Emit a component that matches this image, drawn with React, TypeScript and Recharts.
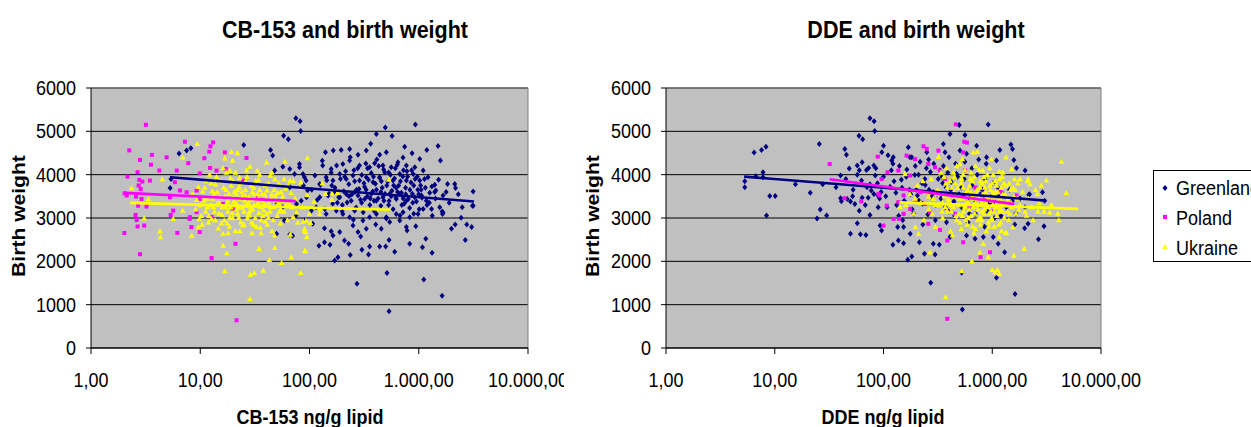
import React from "react";
import {
  CartesianGrid,
  ReferenceLine,
  Scatter,
  ScatterChart,
  XAxis,
  YAxis,
} from "recharts";

type Pt = [number, number];

const xTicks = [1, 10, 100, 1000, 10000];
const xTickLabels = ["1,00", "10,00", "100,00", "1.000,00", "10.000,00"];
const yTicks = [0, 1000, 2000, 3000, 4000, 5000, 6000];
const seriesNames = ["Greenland", "Poland", "Ukraine"];

// CB-153 panel
const cbGreenland: Pt[] = [
  [6.4, 4490], [7.5, 4555], [8.2, 4610], [5.3, 3690], [5.4, 3900], [25, 4685], [44, 4570], [46, 4440],
  [58, 4900], [64, 4815], [75, 5300], [82, 5230], [83, 5010], [48, 4095], [57, 4185], [66, 4130],
  [73, 4015], [81, 4245], [90, 3940], [88, 3750], [66, 3710], [50, 3365], [57, 3250], [76, 3325],
  [94, 3480], [75, 3055], [59, 2940], [50, 2635], [66, 2620], [70, 2590],
  [494, 5090], [931, 5160], [409, 4940], [570, 4890], [363, 4715], [1502, 4660], [1580, 4325], [1185, 4570],
  [718, 4395], [743, 4645], [869, 4495], [165, 4555], [140, 4515], [195, 4570], [233, 4595], [278, 4460],
  [331, 4555], [439, 4460], [505, 4515], [1021, 4360], [1402, 3765], [2137, 3785], [2172, 3695], [3147, 3610],
  [3100, 3280], [1835, 3785], [1670, 3520], [1318, 3725], [1432, 3635], [1670, 3120], [1994, 2750], [2155, 2850],
  [2443, 3005], [3050, 2790], [2666, 2495], [1324, 2200], [1112, 1580], [1637, 1205], [512, 1730], [272, 1480],
  [535, 850], [170, 2020], [182, 2095], [236, 2145], [347, 2160], [439, 2345], [498, 2345], [535, 2495],
  [602, 2220], [826, 2405], [1081, 2325], [1160, 2520], [122, 2360], [137, 2440], [154, 2380], [209, 2480],
  [228, 2405], [302, 2265], [355, 2345], [294, 2575], [137, 2765], [158, 2695], [164, 2595], [189, 2675],
  [250, 2825], [278, 2675], [331, 2750], [404, 2850], [454, 2750], [542, 2905], [670, 2940], [770, 2790],
  [940, 2810], [782, 2710], [115, 3250], [107, 2865], [142, 3095], [176, 3170], [202, 3095], [233, 3020],
  [259, 3170], [308, 2940], [355, 3020], [409, 3095], [505, 3020], [623, 3095], [718, 3135], [826, 3020],
  [985, 3095], [1098, 3210], [1310, 3210], [1556, 3250], [1650, 3095], [124, 3480], [148, 3520], [170, 3595],
  [189, 3480], [217, 3555], [241, 3400], [278, 3520], [320, 3440], [368, 3555], [409, 3400], [470, 3480],
  [542, 3555], [623, 3440], [670, 3555], [770, 3400], [920, 3480], [1060, 3520], [1175, 3400], [124, 3785],
  [142, 3940], [164, 3865], [189, 4015], [217, 3900], [250, 3980], [287, 3865], [331, 3940], [382, 3825],
  [439, 3940], [488, 4055], [581, 3865], [670, 4015], [770, 3865], [890, 4015], [1021, 3865], [1215, 3940],
  [132, 4210], [158, 4130], [202, 4245], [233, 4325], [287, 4210], [355, 4170], [395, 4265], [470, 4210],
  [560, 4170], [645, 4285], [770, 4210], [920, 4170], [1098, 4095], [81, 4170], [87, 4015], [93, 3865],
  [84, 3400], [96, 3635], [104, 3170], [90, 2940],
  [105, 3650], [112, 3980], [118, 3420], [126, 3760], [131, 4320], [138, 3210], [144, 3870], [151, 3560],
  [158, 4050], [163, 3330], [171, 3700], [177, 4210], [185, 3480], [192, 3900], [199, 3150], [206, 3620],
  [214, 4080], [221, 3360], [229, 3780], [236, 4400], [244, 3540], [252, 2960], [259, 3850], [267, 3240],
  [276, 4150], [284, 3670], [293, 3420], [301, 3990], [310, 3130], [319, 3720], [328, 4260], [338, 3500],
  [347, 3880], [357, 3300], [368, 4040], [379, 3610], [390, 3170], [401, 3790], [413, 4350], [425, 3450],
  [437, 3930], [450, 3280], [463, 3700], [477, 4120], [491, 3560], [505, 2990], [520, 3840], [535, 3390],
  [551, 4000], [567, 3630], [583, 3200], [600, 3910], [618, 3470], [636, 4230], [655, 3750], [674, 3060],
  [694, 3580], [714, 3960], [735, 3330], [757, 3700], [779, 4080], [802, 3440], [825, 3230], [849, 3820],
  [874, 3560], [900, 3100], [926, 3900], [953, 3380], [981, 3650], [1010, 3200], [1040, 3750], [1070, 3470],
  [1130, 3900], [1190, 3300], [1260, 3580], [1330, 3050], [1420, 3450], [1520, 3880], [1640, 3150], [1780, 3600],
  [1900, 3350], [2300, 3550], [2500, 3250], [2750, 2850], [3150, 3280],
  [160, 3750], [180, 3350], [210, 3950], [230, 3500], [255, 4100], [270, 3650], [300, 3350], [315, 3800],
  [340, 4150], [360, 3450], [385, 3950], [410, 3650], [430, 4200], [455, 3850], [480, 3400], [510, 3750],
  [530, 4050], [560, 3500], [590, 3750], [610, 4150], [640, 3600], [680, 3850], [700, 3300], [725, 4100],
  [760, 3550], [790, 3950], [830, 3650], [860, 4100], [900, 3750], [970, 3950], [1050, 3650], [1150, 3700],
  [1250, 3350], [1400, 3600], [200, 3300], [260, 3600], [330, 3650], [390, 3400], [450, 3600], [530, 3300],
  [620, 3700], [720, 3450], [880, 3350], [1000, 3550],
];

const cbPoland: Pt[] = [
  [3.18, 5150], [2.24, 4560], [2.81, 4340], [3.61, 4455], [3.54, 4230], [4.22, 4095], [4.92, 4400], [2.16, 3955],
  [2.67, 4055], [2.77, 3880], [2.95, 3840], [3.46, 3865], [2.73, 3750], [2.85, 3670], [2.03, 3570], [2.12, 3520],
  [2.58, 3495], [2.9, 3440], [2.7, 3285], [3.22, 3265], [2.56, 3070], [2.62, 2955], [2.67, 2805], [3.07, 2825],
  [2.02, 2655], [2.81, 2165], [7.24, 4760], [7.77, 4265], [5.86, 3825], [6.52, 3635], [7.5, 3595], [5.28, 3480],
  [5.65, 3170], [5.36, 3070], [6.17, 2655], [8.04, 3020], [8.3, 2790], [9.26, 3635], [9.93, 4030], [10.9, 4380],
  [12.1, 4530], [12.4, 4655], [13.1, 4745], [16.8, 4515], [12.3, 4155], [14.1, 4095], [17.1, 4130], [26.5, 4385],
  [9.9, 3440], [12.7, 3020], [9.9, 2675], [21, 2405], [12.7, 2075], [21.5, 640], [16.2, 3325], [20, 3210],
  [24.7, 3865], [32.7, 3480], [37.7, 3400], [46.5, 3250], [8, 2980], [9.26, 3135], [6.1, 4095],
];

const cbUkraine: Pt[] = [
  [9.4, 4710], [6.9, 4400], [4.49, 3895], [2.35, 3690], [3.34, 3440], [3.07, 2995], [4.28, 2695], [4.33, 2560],
  [5.67, 2980], [6.9, 3170], [19.3, 4530], [21.9, 4500], [16.8, 4380], [19.7, 4325], [18.7, 4095], [28.5, 4185],
  [33.2, 4095], [40.5, 4285], [59.5, 4300], [48.2, 3900], [66.3, 3865], [16.8, 1775], [28.5, 1135], [28.8, 1695],
  [31.2, 1735], [37.7, 1790], [42.8, 2035], [55.5, 1965], [68, 2095], [83, 1735], [17.5, 2190], [16.2, 2365],
  [34.6, 2290], [48.2, 2310], [90.6, 2250], [92, 2675], [87.7, 2920], [8.35, 2595], [9.6, 2790], [9.8, 2980],
  [531, 3885], [131, 3800], [161, 3570], [124, 3095], [95.8, 4385], [83.2, 3825], [93, 2940], [102, 2890],
  [90, 2710], [94.5, 2560], [92, 2235],
  [8.5, 3550], [9.1, 3200], [9.6, 3720], [10.2, 3050], [10.8, 3400], [11.3, 3850], [11.9, 2900], [12.4, 3300],
  [12.9, 3620], [13.5, 3150], [14.1, 3950], [14.6, 2760], [15.2, 3480], [15.8, 3080], [16.4, 3700], [17.0, 3260],
  [17.6, 2880], [18.3, 3560], [18.9, 3920], [19.6, 3120], [20.3, 3380], [21.0, 2700], [21.8, 3650], [22.5, 3010],
  [23.3, 3800], [24.1, 3240], [25.0, 2850], [25.9, 3520], [26.8, 3950], [27.7, 3100], [28.7, 3420], [29.7, 2650],
  [30.8, 3700], [31.9, 3000], [33.0, 3300], [34.2, 3880], [35.4, 2780], [36.7, 3550], [38.0, 3180], [39.4, 2920],
  [40.8, 3640], [42.3, 3360], [43.8, 3980], [45.4, 2700], [47.0, 3250], [48.7, 3520], [50.5, 3050], [52.3, 3800],
  [54.2, 2880], [56.2, 3400], [58.3, 3150], [60.5, 3680], [62.8, 2950], [65, 3330], [68, 3580], [71, 3020],
  [74, 3450], [78, 2900], [82, 3700], [86, 3250], [90, 2750], [95, 3530], [100, 3100], [110, 3380],
  [125, 3200], [140, 3560], [160, 3420], [180, 3580],
  [9.3, 3420], [10.5, 3610], [11.6, 3250], [12.7, 2980], [13.8, 3780], [15.0, 3340], [16.1, 2640], [17.3, 4050],
  [18.6, 3010], [19.9, 3470], [21.4, 3200], [22.9, 3930], [24.5, 2830], [26.2, 3290], [28.0, 3060], [30.0, 3600],
  [32.1, 3860], [34.4, 3120], [36.8, 3400], [39.4, 3760], [42.0, 3010], [44.9, 3470], [48.0, 2600], [51.3, 3580],
  [54.8, 3200], [58.5, 3900], [62.5, 3300], [66.7, 2620], [71.2, 3850], [76.0, 3130],
  [14.5, 3350], [16.8, 3500], [20.5, 3300], [24.0, 3600], [27.5, 3350], [31.5, 3450], [35.5, 3250], [40.0, 3450],
  [19.0, 3250], [23.0, 3450], [29.0, 3250], [33.5, 3550], [37.5, 3050], [44.0, 3250], [52.0, 3350], [13.0, 3450],
  [17.8, 3150], [21.5, 3550], [26.0, 3650], [30.5, 2850],
  [10.0, 3300], [10.4, 2850], [11.0, 3700], [11.5, 3450], [12.0, 3050], [12.6, 3800], [13.2, 3250], [13.7, 2950],
  [14.3, 3600], [14.9, 3100], [15.5, 3850], [16.0, 3250], [16.6, 2950], [17.2, 3650], [17.9, 3400], [18.5, 2800],
  [19.2, 3750], [19.8, 3000], [20.6, 3600], [21.2, 3350], [22.0, 3100], [22.7, 3700], [23.5, 2900], [24.3, 3500],
  [25.2, 3150], [26.0, 3850], [27.0, 3000], [28.0, 3500], [29.2, 3750], [30.2, 3200], [31.2, 3550], [32.5, 2800],
  [33.8, 3350], [35.0, 3650], [36.2, 2950], [37.8, 3300], [39.0, 3550], [40.5, 3100], [42.0, 3800], [43.5, 3150],
  [45.0, 3550], [46.5, 2950], [49.5, 3400], [53.0, 3150], [57.0, 3500], [61.0, 3300], [64.0, 3750], [69.0, 3250],
  [11.2, 3150], [13.4, 3550], [15.6, 2880], [17.5, 3350], [20.0, 3850], [22.2, 3250], [25.5, 3400], [28.3, 3150],
  [31.0, 3300], [34.0, 3450], [38.5, 3350], [41.0, 2850], [47.5, 3650], [55.0, 3600], [12.2, 4000], [16.2, 4150],
  [21.0, 4050], [26.5, 4100], [35.0, 4000], [45.0, 4050], [23.0, 2700], [18.0, 2650], [36.0, 2650], [29.5, 2900],
];

const cbTrends: Pt[][] = [
  [[5.3, 3940], [3200, 3380]],
  [[2.02, 3580], [75, 3390]],
  [[2.27, 3350], [550, 3190]],
];

// DDE panel
const ddeGreenland: Pt[] = [
  [5.3, 3850], [5.3, 3710], [6.46, 4510], [7.56, 4570], [8.3, 4645], [7.8, 4055], [6.7, 3965], [7.8, 3940],
  [9, 3510], [10.1, 3510], [8.4, 3055], [15.5, 3780], [21.2, 3580], [25.7, 4710], [26.2, 3195], [24.5, 2990],
  [30, 3055], [27.6, 3780], [36.6, 3710], [40.3, 3980], [44.1, 4595], [45.6, 4460], [40.3, 3455], [41, 3385],
  [46.4, 3440], [48.4, 4145], [49.7, 3380], [54.5, 3325], [52.6, 3650], [57.4, 4000], [59.9, 3170], [57.4, 2880],
  [49.7, 2635], [61.3, 2625], [68.9, 2605], [59.5, 4900], [64.3, 4815], [75, 5300], [82, 5230], [83, 5010],
  [63.6, 4285], [57.4, 4210], [69.8, 4110], [73, 4155], [81.5, 4210], [84, 3980], [62.8, 3865], [70.6, 3710],
  [77.1, 3635], [81.5, 3555], [88.7, 3520], [72.3, 3465], [63.6, 3465], [75, 3070], [89.4, 3250],
  [497, 5145], [918, 5160], [409, 4940], [561, 4915], [100, 4670], [96.5, 4515], [123, 4400], [119, 4325],
  [169, 4630], [182, 4400], [250, 4515], [355, 4710], [368, 4515], [505, 4555], [580, 4480], [718, 4670],
  [887, 4400], [1093, 4325], [1175, 4570], [1484, 4695], [1536, 4595], [1580, 4340], [1670, 4155], [2168, 3535],
  [2005, 4095], [2897, 3595], [3034, 3400], [2990, 2810], [2660, 2510], [1985, 2765], [2135, 2865], [1610, 2850],
  [1300, 2210], [1093, 1620], [1620, 1245], [531, 890], [523, 1735], [272, 1505], [298, 2160], [238, 2175],
  [182, 2110], [167, 2035], [153, 2420], [137, 2480], [122, 2380], [153, 2790], [135, 2790], [93, 2825],
  [96, 2710], [176, 2635], [214, 2440], [287, 2405], [326, 2380], [409, 2560], [580, 2595], [695, 2520],
  [828, 2560], [1021, 2560], [1134, 2405],
  [45, 3900], [52, 3500], [60, 4100], [68, 3300], [75, 3780], [85, 4150], [92, 3450], [100, 3950],
  [108, 3250], [115, 3720], [122, 4250], [130, 3580], [138, 3050], [146, 3880], [155, 3400], [164, 4120],
  [173, 3650], [183, 3200], [194, 3990], [205, 3520], [217, 4300], [229, 3330], [242, 3760], [256, 3080],
  [270, 4060], [286, 3600], [302, 3300], [319, 3900], [337, 3450], [356, 4200], [376, 3700], [397, 3150],
  [420, 3830], [444, 3380], [469, 4020], [495, 3550], [523, 3250], [553, 3900], [584, 3600], [617, 3100],
  [652, 3750], [689, 3420], [728, 4000], [769, 3300], [812, 3650], [858, 3900], [907, 3150], [958, 3500],
  [1012, 3800], [1070, 3350], [1130, 3700], [1200, 3050], [1270, 3550], [1350, 3250], [1440, 3650], [1530, 3400],
  [1650, 3100], [1800, 3450], [2000, 3250], [2200, 3550],
  [110, 4450], [140, 4200], [175, 4400], [210, 4000], [260, 4350], [330, 4100], [400, 4400], [460, 4250],
  [560, 4300], [650, 4150], [750, 4350], [880, 4250], [95, 3600], [125, 3850], [160, 3350], [200, 3650],
  [240, 3900], [280, 3500], [350, 3800], [430, 3550], [520, 3700], [620, 3450], [780, 3550], [950, 3350],
  [1150, 3500], [150, 2950], [190, 3100], [230, 2850], [300, 2950], [380, 2900], [450, 3050], [600, 2900],
  [700, 3100], [850, 2800], [1050, 3000],
  [88, 3800], [105, 3500], [118, 4100], [132, 3300], [148, 3700], [162, 3950], [178, 3550], [196, 4200],
  [212, 3400], [226, 3800], [248, 4150], [262, 3650], [290, 4250], [310, 3550], [345, 3950], [370, 3250],
  [390, 4050], [415, 3650], [480, 3950], [540, 3500],
];

const ddePoland: Pt[] = [
  [32, 4245], [43.9, 3455], [62.5, 3385], [88.6, 4415], [91.7, 3520], [463, 5160], [553, 4760], [585, 4740],
  [233, 4655], [250, 4595], [320, 4555], [195, 4360], [163, 4440], [109, 4055], [137, 4095], [176, 3980],
  [258, 4245], [298, 4170], [331, 4095], [368, 3900], [541, 4515], [561, 4095], [96, 3900], [90, 3555],
  [107, 3285], [137, 3365], [153, 3095], [176, 3210], [195, 3400], [241, 3325], [268, 3135], [409, 3135],
  [454, 3095], [124, 2980], [139, 2980], [100, 2825], [258, 2865], [331, 2725], [386, 2480], [541, 2440],
  [952, 2210], [781, 2095], [386, 675], [217, 3595], [153, 3520], [1670, 3520], [700, 3700], [850, 3450],
  [1200, 3600], [620, 3250], [1000, 3150],
];

const ddeUkraine: Pt[] = [
  [4325, 4300], [4800, 3580], [3144, 3870], [4090, 2950], [3370, 3125], [2630, 3150], [2375, 2950], [1968, 2290],
  [1580, 2135], [1117, 1805], [998, 1805], [1058, 1750], [1160, 1715], [918, 2095], [770, 2210], [649, 2005],
  [523, 1775], [373, 1175], [268, 2210], [1507, 4130], [2135, 3900], [1800, 3900], [2220, 3785], [2827, 3750],
  [2068, 3055], [1550, 2790], [1335, 2675], [1160, 2560], [827, 2405], [210, 2635], [196, 2790], [142, 3250],
  [158, 4015], [320, 4415], [531, 4360], [670, 4515], [729, 4530], [985, 4360], [1335, 4400], [1160, 4080],
  [758, 4110], [505, 4245],
  [160, 3300], [175, 3550], [190, 3100], [205, 3750], [220, 3350], [235, 2950], [250, 3600], [262, 3200],
  [275, 3900], [288, 3450], [300, 2800], [312, 3650], [325, 3300], [338, 4050], [350, 3000], [362, 3500],
  [375, 3800], [388, 3150], [400, 3400], [412, 2700], [425, 3700], [438, 3250], [450, 3950], [463, 3050],
  [476, 3550], [490, 3300], [503, 2900], [517, 3800], [530, 3450], [545, 3150], [560, 4100], [575, 3600],
  [590, 2850], [605, 3350], [620, 3750], [636, 3050], [652, 3500], [668, 3250], [685, 3950], [702, 2750],
  [720, 3650], [738, 3200], [756, 3450], [775, 3850], [795, 2950], [815, 3550], [835, 3100], [856, 3700],
  [878, 3350], [900, 4000], [922, 2900], [945, 3500], [970, 3150], [995, 3800], [1020, 3300], [1045, 2800],
  [1072, 3600], [1100, 3050], [1130, 3400], [1160, 3900], [1190, 3200], [1220, 2700], [1250, 3550], [1290, 3000],
  [1330, 3750], [1370, 3350], [1420, 2950], [1470, 3650], [1520, 3250], [1580, 3500], [1650, 3100], [1720, 3800],
  [1800, 3300], [1900, 3600], [2000, 3150], [2150, 3450], [2300, 3250], [2500, 3650], [2700, 3350], [3000, 3150],
  [330, 3600], [370, 3250], [410, 3850], [455, 3500], [495, 3100], [540, 3700], [580, 3350], [630, 3900],
  [680, 3550], [730, 2950], [790, 3350], [840, 3950], [900, 3250], [960, 3650], [1030, 3500], [1100, 3750],
  [1180, 3450], [1280, 3800], [1400, 3450], [1550, 3700], [1700, 3450], [350, 3350], [420, 3150], [480, 3700],
  [560, 3250], [640, 3600], [710, 3450], [800, 3150], [870, 3600], [990, 3000], [1080, 3250], [1250, 3150],
  [1450, 3100], [600, 3000], [760, 3000], [520, 2750], [680, 2650], [880, 2700], [1150, 2850], [1350, 2650],
  [430, 2600], [300, 3300], [260, 3500], [230, 3850], [195, 3450], [280, 3100], [380, 4150], [470, 4200],
  [700, 4200], [950, 4150], [1250, 4050], [1600, 3900], [2100, 3850], [2600, 3550], [3500, 3300], [4000, 3100],
  [310, 3550], [345, 3150], [385, 3700], [415, 3300], [445, 3600], [470, 2950], [500, 3450], [525, 3900],
  [550, 3300], [570, 2950], [595, 3650], [615, 3200], [645, 3450], [660, 3850], [690, 3100], [715, 3550],
  [745, 3300], [770, 3700], [790, 3000], [820, 3400], [850, 3200], [870, 3850], [895, 3500], [930, 3100],
  [955, 3750], [985, 3400], [1010, 3600], [1040, 3150], [1065, 3850], [1095, 3350], [1125, 3600], [1170, 3150],
  [1210, 3700], [1260, 3350], [1310, 3550], [1380, 3150], [1430, 3800], [1500, 3350], [1620, 3650], [1750, 3200],
  [395, 3450], [460, 3800], [530, 3050], [610, 3550], [700, 3350], [810, 3800], [920, 3450], [1000, 2950],
  [1120, 3250], [1230, 3950], [360, 3950], [440, 4050], [540, 4000], [640, 4050], [820, 4100], [1020, 4000],
  [660, 2800], [780, 2850], [930, 2800], [1200, 2900],
];

const ddeTrends: Pt[][] = [
  [[5.23, 3955], [3125, 3400]],
  [[32, 3895], [1600, 3320]],
  [[140, 3360], [6150, 3210]],
];

const FONT = '"Liberation Sans", Arial, Helvetica, sans-serif';
const NAVY = "#000080";
const MAGENTA = "#FF00FF";
const YELLOW = "#FFFF00";
const seriesColors = [NAVY, MAGENTA, YELLOW];

const toRows = (pts: Pt[]) => pts.map(([x, y]) => ({ x, y }));

const Diamond = (p: any) => (
  <polygon
    points={`${p.cx},${p.cy - 3} ${p.cx + 2.5},${p.cy} ${p.cx},${p.cy + 3} ${p.cx - 2.5},${p.cy}`}
    fill={NAVY}
  />
);
const Square = (p: any) => (
  <rect x={p.cx - 2} y={p.cy - 2} width={4} height={4} fill={MAGENTA} />
);
const Triangle = (p: any) => (
  <polygon
    points={`${p.cx},${p.cy - 2.9} ${p.cx + 2.8},${p.cy + 2.2} ${p.cx - 2.8},${p.cy + 2.2}`}
    fill={YELLOW}
  />
);
const markers = [Diamond, Square, Triangle];

const XTick = (props: any) => {
  const { x, y, payload } = props;
  const i = xTicks.indexOf(payload.value);
  return (
    <g transform={`translate(${x},${y}) scale(1,1.1)`}>
      <text textAnchor="middle" dy="0.71em" fontSize={18} fontFamily={FONT} fill="#000">
        {i >= 0 ? xTickLabels[i] : payload.value}
      </text>
    </g>
  );
};

const YTick = (props: any) => {
  const { x, y, payload } = props;
  return (
    <g transform={`translate(${x},${y}) scale(1,1.1)`}>
      <text textAnchor="end" dy="0.36em" fontSize={18} fontFamily={FONT} fill="#000">
        {payload.value}
      </text>
    </g>
  );
};

function Panel({
  left,
  width,
  marginLeft,
  marginRight,
  series,
  trends,
}: {
  left: number;
  width: number;
  marginLeft: number;
  marginRight: number;
  series: Pt[][];
  trends: Pt[][];
}) {
  return (
    <div style={{ position: "absolute", left, top: 0 }}>
      <ScatterChart
        width={width}
        height={427}
        margin={{ top: 88, right: marginRight, bottom: 49, left: marginLeft }}
      >
        <CartesianGrid vertical={false} stroke="#000" fill="#C0C0C0" fillOpacity={1} />
        <XAxis
          type="number"
          dataKey="x"
          scale="log"
          domain={[1, 10000]}
          ticks={xTicks}
          interval={0}
          allowDataOverflow
          height={30}
          tickSize={6}
          tickMargin={19}
          tick={(p: any) => <XTick {...p} />}
          axisLine={{ stroke: "#000" }}
          tickLine={{ stroke: "#000" }}
        />
        <YAxis
          type="number"
          dataKey="y"
          domain={[0, 6000]}
          ticks={yTicks}
          interval={0}
          width={60}
          tickSize={5}
          tickMargin={10}
          tick={(p: any) => <YTick {...p} />}
          axisLine={{ stroke: "#000" }}
          tickLine={{ stroke: "#000" }}
        />
        <ReferenceLine y={6000} stroke="#808080" />
        <ReferenceLine x={10000} stroke="#808080" />
        {series.map((pts, i) => (
          <Scatter
            key={seriesNames[i]}
            name={seriesNames[i]}
            data={toRows(pts)}
            shape={markers[i]}
            isAnimationActive={false}
          />
        ))}
        {trends.map((pts, i) => (
          <Scatter
            key={"trend-" + seriesNames[i]}
            data={toRows(pts)}
            line={{ stroke: seriesColors[i], strokeWidth: 2.6 }}
            shape={() => <g />}
            isAnimationActive={false}
          />
        ))}
      </ScatterChart>
    </div>
  );
}

export default function App() {
  return (
    <div
      style={{
        position: "absolute",
        left: 0,
        top: 0,
        width: 1251,
        height: 427,
        overflow: "hidden",
        background: "#fff",
        fontFamily: FONT,
      }}
    >
      <Panel
        left={0}
        width={564}
        marginLeft={31}
        marginRight={36}
        series={[cbGreenland, cbPoland, cbUkraine]}
        trends={cbTrends}
      />
      <Panel
        left={564}
        width={687}
        marginLeft={42}
        marginRight={150}
        series={[ddeGreenland, ddePoland, ddeUkraine]}
        trends={ddeTrends}
      />
      <svg
        width={1251}
        height={427}
        style={{ position: "absolute", left: 0, top: 0, pointerEvents: "none" }}
        fontFamily={FONT}
      >
        <g transform="translate(345,38) scale(1,1.15)">
          <text textAnchor="middle" fontSize={21.5} fontWeight="bold">CB-153 and birth weight</text>
        </g>
        <g transform="translate(916,38) scale(1,1.15)">
          <text textAnchor="middle" fontSize={21.5} fontWeight="bold">DDE and birth weight</text>
        </g>
        <g transform="translate(310,424) scale(1,1.15)">
          <text textAnchor="middle" fontSize={18} fontWeight="bold">CB-153 ng/g lipid</text>
        </g>
        <g transform="translate(883,424) scale(1,1.15)">
          <text textAnchor="middle" fontSize={18} fontWeight="bold">DDE ng/g lipid</text>
        </g>
        <g transform="translate(25,216) rotate(-90) scale(1.11,1)">
          <text textAnchor="middle" fontSize={19} fontWeight="bold">Birth weight</text>
        </g>
        <g transform="translate(599,216) rotate(-90) scale(1.11,1)">
          <text textAnchor="middle" fontSize={19} fontWeight="bold">Birth weight</text>
        </g>
        <rect x={1153.5} y={170.5} width={120} height={91} fill="#fff" stroke="#000" />
        <Diamond cx={1165} cy={188} />
        <Square cx={1165} cy={217} />
        <Triangle cx={1165} cy={247} />
        {seriesNames.map((n, i) => (
          <g key={n} transform={`translate(1176,${195 + i * 29.8}) scale(1,1.12)`}>
            <text fontSize={18}>{n}</text>
          </g>
        ))}
      </svg>
    </div>
  );
}
